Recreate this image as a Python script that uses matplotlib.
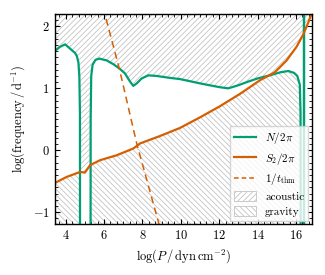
import numpy as np
import matplotlib
matplotlib.use('Agg')
import matplotlib.pyplot as plt
from matplotlib.patches import Patch
from matplotlib.lines import Line2D
from matplotlib.ticker import MultipleLocator

plt.rcParams['font.family'] = 'serif'
plt.rcParams['font.serif'] = ['cmr10', 'DejaVu Serif']
plt.rcParams['mathtext.fontset'] = 'cm'
plt.rcParams['axes.formatter.use_mathtext'] = True
plt.rcParams['axes.unicode_minus'] = True
plt.rcParams['hatch.linewidth'] = 0.6

# Brunt-Vaisala frequency, log(N/2pi); -3 marks convective (N^2<0) zones
n_x = [3.42, 3.70, 3.97, 4.23, 4.49, 4.58, 4.66, 4.71, 4.74, 4.75,
       5.29, 5.30, 5.33, 5.40, 5.55, 5.75, 6.14, 6.48, 6.80, 7.09,
       7.35, 7.52, 7.70, 7.96, 8.30, 8.74, 9.40, 9.95, 11.0, 12.0,
       12.47, 13.0, 13.43, 14.0, 14.64, 15.2, 15.6, 15.9, 16.07, 16.2,
       16.24, 16.25, 16.41, 16.42, 16.43, 16.85]
n_y = [1.60, 1.67, 1.71, 1.64, 1.57, 1.52, 1.42, 1.20, 0.60, -3,
       -3, 0.50, 1.20, 1.38, 1.46, 1.48, 1.45, 1.39, 1.32, 1.24,
       1.11, 1.04, 1.08, 1.16, 1.21, 1.20, 1.17, 1.15, 1.08, 1.02,
       1.00, 1.05, 1.10, 1.16, 1.21, 1.26, 1.28, 1.25, 1.20, 1.06,
       0.60, -3, -3, 3.0, -3, -3]

# Lamb frequency log(S2/2pi)
s2_x = [3.42, 4.05, 4.75, 5.00, 5.27, 5.79, 6.66, 7.53, 7.87, 8.91,
        9.95, 10.99, 12.03, 13.08, 14.12, 14.90, 15.51, 16.03, 16.38,
        16.64, 16.88]
s2_y = [-0.53, -0.43, -0.35, -0.36, -0.24, -0.16, -0.08, 0.03, 0.11, 0.23,
        0.36, 0.53, 0.71, 0.91, 1.13, 1.26, 1.45, 1.67, 1.87,
        2.06, 2.26]

# thermal timescale log(1/t_thm)
th_x = [5.95, 6.80, 7.70, 8.86, 8.95]
th_y = [2.30, 1.31, 0.11, -1.19, -1.29]

xmin, xmax = 3.42, 16.82
ymin, ymax = -1.19, 2.2

green = '#009E73'
orange = '#D55E00'
hcol = '#c4c4c4'

fig = plt.figure(figsize=(3.25, 2.75), dpi=100)
ax = fig.add_axes([0.168, 0.1855, 0.791, 0.7635])

# propagation regions
xg = np.linspace(xmin, xmax, 4000)
ng = np.interp(xg, n_x, n_y)
sg = np.interp(xg, s2_x, s2_y)
upper = np.clip(np.maximum(ng, sg), ymin, ymax)
lower = np.clip(np.minimum(ng, sg), ymin, ymax)
ax.fill_between(xg, upper, ymax, facecolor='none', edgecolor=hcol,
                hatch='//////', linewidth=0)
ax.fill_between(xg, ymin, lower, facecolor='none', edgecolor=hcol,
                hatch='\\\\\\\\\\\\', linewidth=0)

ax.plot(n_x, n_y, color=green, lw=1.6)
ax.plot(s2_x, s2_y, color=orange, lw=1.6)
ax.plot(th_x, th_y, color=orange, lw=1.1, ls=(0, (4.5, 3)))

ax.set_xlim(xmin, xmax)
ax.set_ylim(ymin, ymax)
ax.xaxis.set_major_locator(MultipleLocator(2))
ax.xaxis.set_minor_locator(MultipleLocator(1 / 3))
ax.yaxis.set_major_locator(MultipleLocator(1))
ax.yaxis.set_minor_locator(MultipleLocator(0.1))
ax.tick_params(which='both', direction='in', top=True, right=True, labelsize=9)
ax.tick_params(which='major', length=3.5, width=0.8)
ax.tick_params(which='minor', length=2, width=0.6)
for sp in ax.spines.values():
    sp.set_linewidth(1.0)

ax.set_xlabel(r'log($P\,/\,$dyn$\,$cm$^{-2}$)', fontsize=9)
ax.set_ylabel(r'log(frequency$\,/\,$d$^{-1}$)', fontsize=9)

handles = [Line2D([], [], color=green, lw=1.6),
           Line2D([], [], color=orange, lw=1.6),
           Line2D([], [], color=orange, lw=1.1, ls=(0, (3, 2))),
           Patch(facecolor='white', edgecolor=hcol, hatch='//////', lw=0.6),
           Patch(facecolor='white', edgecolor=hcol, hatch='\\\\\\\\\\\\', lw=0.6)]
labels = [r'$N/2\pi$', r'$S_2/2\pi$', r'$1/t_{\rm thm}$', 'acoustic', 'gravity']
ax.legend(handles, labels, loc='lower right', fontsize=8, fancybox=False,
          framealpha=0.8, edgecolor='#cccccc', handlelength=2.0,
          handleheight=0.9, borderpad=0.35, labelspacing=0.4,
          borderaxespad=0.3)

fig.savefig('out.png', dpi=100)
